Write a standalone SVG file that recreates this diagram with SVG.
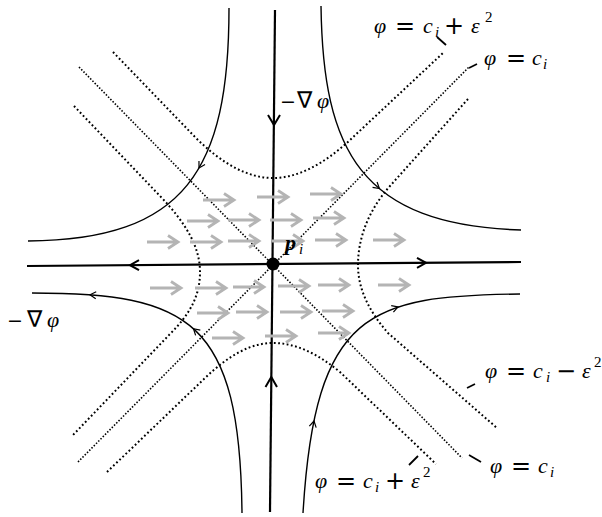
<svg xmlns="http://www.w3.org/2000/svg" width="602" height="517" viewBox="0 0 602 517">
<style>
.ax{fill:none;stroke:#000;stroke-width:2.2}
.cv{fill:none;stroke:#000;stroke-width:1.4}
.dt{fill:none;stroke:#000;stroke-width:2;stroke-dasharray:1.8 2.5}
.dt0{fill:none;stroke:#000;stroke-width:1.6;stroke-dasharray:1.5 1.7}
.hd{fill:none;stroke:#000;stroke-width:2}
.sh{fill:none;stroke:#000;stroke-width:1.2}
.tk{stroke:#000;stroke-width:1.8}
.ga{fill:none;stroke:#b4b4b4;stroke-width:2.8}
text{font-family:"Liberation Serif","DejaVu Serif",serif;font-size:22px;fill:#000}
.it{font-style:italic}
.sm{font-size:15px}
.op{font-family:"DejaVu Sans",sans-serif;font-size:24px;font-style:normal}
.mn{font-family:"DejaVu Sans",sans-serif;font-size:19px}
.nb{font-family:"DejaVu Sans",sans-serif;font-size:23px}
.bf{font-weight:bold;font-style:italic}
</style>
<defs>
<path id="g" d="M0,0 H31 M21,-6.5 L31,0 L21,6.5"/>
<path id="c" d="M-6,-3.5 L0,0 L-6,3.5"/>
</defs>

<g id="connectors">
<g id="level-sets">
<path class="dt" d="M113,52 L195,137 C222,164 248,178 273,178 C298,178 324,164 350,140 L443,53"/>
<path class="dt" d="M107,472 L205,378 C228,356 250,343 273,343 C296,343 318,354 340,372 L436,464"/>
<path class="dt" d="M74,106 L160,196 C187,224 200,248 200,272 C200,296 190,314 170,334 L73,435"/>
<path class="dt" d="M468,99 L390,186 C367,212 358,240 358,265 C358,288 368,310 388,333 L497,428"/>
<path class="dt0" d="M79,67 L462,458"/>
<path class="dt0" d="M78,462 L469,67"/>
</g>
<g id="flow-lines">
<path class="cv" d="M229,8 C229,170 185,240 28,241"/>
<path class="cv" d="M321,6 C323,150 360,225 521,230"/>
<path class="cv" d="M32,293 C190,293 240,320 242,513"/>
<path class="cv" d="M520,294 C370,296 315,310 303,513"/>
<use href="#c" class="sh" transform="translate(199,168) rotate(120)"/>
<use href="#c" class="sh" transform="translate(379.4,188.6) rotate(40)"/>
<use href="#c" class="sh" transform="translate(90,294.8) rotate(184)"/>
<use href="#c" class="sh" transform="translate(193.5,328.7) rotate(222)"/>
<use href="#c" class="sh" transform="translate(398,307) rotate(-18.5)"/>
<use href="#c" class="sh" transform="translate(314,421) rotate(-78)"/>
</g>
<g id="axes">
<path class="ax" d="M275,10 L270,512"/>
<path class="ax" d="M27,266 L521,262"/>
<path class="hd" d="M268,115 L274,125 L280,115"/>
<path class="hd" d="M265.5,387 L271.3,377 L277,387"/>
<path class="hd" d="M139,260.2 L130,265.2 L139,270.2"/>
<path class="hd" d="M417,257.8 L426,262.8 L417,267.8"/>
</g>
<g id="gradient-field" class="ga">
<use href="#g" x="203" y="200"/><use href="#g" x="257" y="197"/><use href="#g" x="310" y="194"/>
<use href="#g" x="187" y="221"/><use href="#g" x="228" y="220"/><use href="#g" x="270" y="220"/><use href="#g" x="313" y="218"/>
<use href="#g" x="147" y="242"/><use href="#g" x="190" y="242"/><use href="#g" x="228" y="241"/><use href="#g" x="272" y="241"/><use href="#g" x="315" y="240"/><use href="#g" x="373" y="240"/>
<use href="#g" x="150" y="288"/><use href="#g" x="195" y="288"/><use href="#g" x="233" y="287"/><use href="#g" x="278" y="286"/><use href="#g" x="318" y="285"/><use href="#g" x="378" y="285"/>
<use href="#g" x="197" y="313"/><use href="#g" x="236" y="312"/><use href="#g" x="280" y="312"/><use href="#g" x="322" y="311"/>
<use href="#g" x="212" y="338"/><use href="#g" x="265" y="336"/><use href="#g" x="318" y="333"/>
</g>
<g id="label-ticks">
<line class="tk" x1="437" y1="37" x2="446" y2="45"/>
<line class="tk" x1="469" y1="68" x2="477" y2="64"/>
<line class="tk" x1="467" y1="388" x2="475" y2="384"/>
<line class="tk" x1="469" y1="455" x2="481" y2="462"/>
<line class="tk" x1="409" y1="465" x2="418" y2="456"/>
</g>
</g>

<g id="critical-point">
<circle cx="273" cy="264" r="6.5" fill="#000"/>
<text y="250"><tspan class="bf" x="285">p</tspan><tspan class="it sm" x="299" y="254">i</tspan></text>
</g>

<g id="grad-label-top"><text y="108"><tspan class="mn" x="280">−</tspan><tspan class="nb" x="297">∇</tspan><tspan class="it" x="317">φ</tspan></text></g>
<g id="grad-label-left"><text y="327"><tspan class="mn" x="7">−</tspan><tspan class="nb" x="27">∇</tspan><tspan class="it" x="47">φ</tspan></text></g>

<g id="label-top-plus"><text y="33"><tspan class="it" x="374">φ</tspan><tspan class="op" x="395" y="34">=</tspan><tspan class="it" x="423" y="33">c</tspan><tspan class="it sm" x="435" y="37">i</tspan><tspan class="op" x="444" y="34">+</tspan><tspan class="it" x="471" y="33">ε</tspan><tspan class="sm" x="485" y="22">2</tspan></text></g>
<g id="label-top-zero"><text y="65"><tspan class="it" x="484">φ</tspan><tspan class="op" x="506" y="66">=</tspan><tspan class="it" x="532" y="65">c</tspan><tspan class="it sm" x="543" y="69">i</tspan></text></g>
<g id="label-right-minus"><text y="378"><tspan class="it" x="485">φ</tspan><tspan class="op" x="506" y="379">=</tspan><tspan class="it" x="533" y="378">c</tspan><tspan class="it sm" x="546" y="382">i</tspan><tspan class="op" x="556" y="379">−</tspan><tspan class="it" x="582" y="378">ε</tspan><tspan class="sm" x="594" y="367">2</tspan></text></g>
<g id="label-bottom-zero"><text y="473"><tspan class="it" x="490">φ</tspan><tspan class="op" x="511" y="474">=</tspan><tspan class="it" x="538" y="473">c</tspan><tspan class="it sm" x="550" y="477">i</tspan></text></g>
<g id="label-bottom-plus"><text y="488"><tspan class="it" x="315">φ</tspan><tspan class="op" x="336" y="489">=</tspan><tspan class="it" x="363" y="488">c</tspan><tspan class="it sm" x="375" y="492">i</tspan><tspan class="op" x="385" y="489">+</tspan><tspan class="it" x="411" y="488">ε</tspan><tspan class="sm" x="423" y="477">2</tspan></text></g>
</svg>
